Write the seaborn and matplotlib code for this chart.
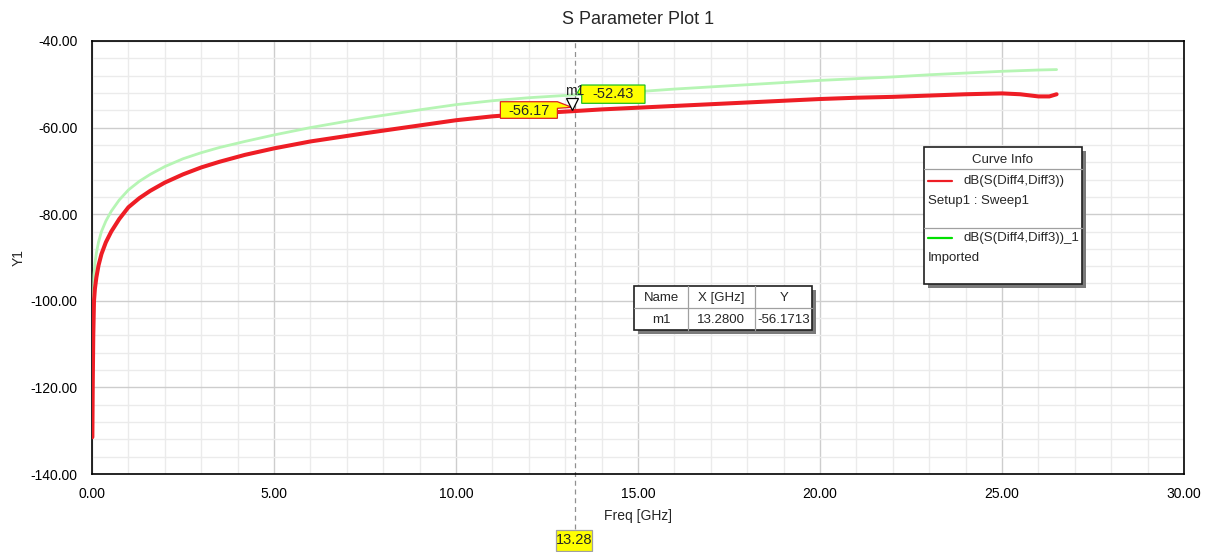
import numpy as np
import matplotlib
matplotlib.use('Agg')
import matplotlib.pyplot as plt
from matplotlib.patches import Rectangle, Polygon
from matplotlib.lines import Line2D
from matplotlib.transforms import IdentityTransform
from matplotlib.ticker import MultipleLocator, FormatStrFormatter
import seaborn as sns

# curve data (GHz, dB)
freq_red = [0.01, 0.02, 0.035, 0.055, 0.08, 0.12, 0.18, 0.26, 0.38, 0.53, 0.75, 1.0, 1.3, 1.6,
            2.0, 2.5, 3.0, 3.5, 4.2, 5.0, 6.0, 7.5, 9.0, 10.0, 11.0, 12.0, 13.28, 14.0, 15.0,
            16.0, 17.0, 18.0, 19.0, 20.0, 21.0, 22.0, 23.0, 24.0, 25.0, 25.5, 26.0, 26.3, 26.5]
s_red = [-131.5, -120.0, -108.0, -100.0, -97.2, -94.6, -91.8, -89.2, -86.5, -84.0, -81.1, -78.4,
         -76.3, -74.6, -72.7, -70.8, -69.2, -67.9, -66.3, -64.8, -63.2, -61.3, -59.5, -58.3,
         -57.4, -56.8, -56.17, -55.8, -55.4, -55.0, -54.6, -54.2, -53.8, -53.4, -53.1, -52.9,
         -52.6, -52.3, -52.1, -52.3, -52.8, -52.8, -52.3]

freq_grn = [0.01, 0.02, 0.035, 0.055, 0.08, 0.12, 0.18, 0.26, 0.38, 0.53, 0.75, 1.0, 1.3, 1.6,
            2.0, 2.5, 3.0, 3.5, 4.2, 5.0, 6.0, 7.5, 9.0, 10.0, 11.0, 12.0, 13.28, 14.0, 15.0,
            16.0, 17.0, 18.0, 19.0, 20.0, 21.0, 22.0, 23.0, 24.0, 25.0, 26.0, 26.5]
s_grn = [-124.0, -110.0, -100.0, -94.0, -91.4, -89.0, -86.4, -84.0, -81.6, -79.3, -76.7, -74.4,
         -72.4, -70.8, -69.0, -67.2, -65.8, -64.6, -63.2, -61.7, -60.0, -57.8, -55.9, -54.7,
         -53.8, -53.1, -52.43, -52.1, -51.7, -51.1, -50.6, -50.1, -49.6, -49.1, -48.7, -48.3,
         -47.8, -47.4, -47.0, -46.7, -46.6]

marker_name = 'm1'
marker_freq = 13.28
marker_red = -56.17
marker_grn = -52.43
marker_table = [['Name', 'X [GHz]', 'Y'], ['m1', '13.2800', '-56.1713']]

curve_labels = ['dB(S(Diff4,Diff3))', 'dB(S(Diff4,Diff3))_1']
curve_sources = ['Setup1 : Sweep1', 'Imported']

W, H = 1209, 552
sns.set_style('white')
plt.rcParams['font.family'] = ['Liberation Sans', 'DejaVu Sans']

fig = plt.figure(figsize=(W / 100, H / 100), dpi=100)
ax = fig.add_axes([92 / W, 1 - 474 / H, (1184 - 92) / W, (474 - 41) / H])

def px(x, y):
    return x / W, 1 - y / H

red = '#ee1d25'
grn_line = '#b6f5b4'

sns.lineplot(x=freq_grn, y=s_grn, color=grn_line, lw=2.0, ax=ax, sort=False, zorder=3)
sns.lineplot(x=freq_red, y=s_red, color=red, lw=2.9, ax=ax, sort=False, zorder=4)

ax.set_xlim(0, 30)
ax.set_ylim(-140, -40)
ax.xaxis.set_major_locator(MultipleLocator(5))
ax.xaxis.set_minor_locator(MultipleLocator(1))
ax.yaxis.set_major_locator(MultipleLocator(20))
ax.yaxis.set_minor_locator(MultipleLocator(4))
ax.xaxis.set_major_formatter(FormatStrFormatter('%.2f'))
ax.yaxis.set_major_formatter(FormatStrFormatter('%.2f'))
ax.grid(which='major', color='#cdcdcd', lw=1, zorder=0)
ax.grid(which='minor', color='#ebebeb', lw=1, zorder=0)
ax.set_axisbelow(True)
for s in ax.spines.values():
    s.set_color('black')
    s.set_linewidth(1.2)
ax.tick_params(which='major', direction='out', length=7, width=1, labelsize=10, colors='black')
ax.tick_params(which='minor', direction='out', length=4, width=1, colors='black')
ax.tick_params(axis='x', which='major', length=5, pad=4)

ax.set_title('S Parameter Plot 1', fontsize=13, pad=12.5)
ax.set_xlabel('Freq [GHz]', fontsize=10, labelpad=6)
ax.set_ylabel('Y1', fontsize=10, labelpad=3)

# marker line
ax.axvline(marker_freq, ymin=-0.128, ymax=1, color='#909090', ls=(0, (4, 3)), lw=0.9,
           clip_on=False, zorder=2)

def disp(x, y):
    return ax.transData.transform((x, y))

def callout(point, verts, text, center, edge):
    # verts / center are pixel offsets from the point, image y pointing down
    x0, y0 = point
    poly = [(x0 + dx, y0 - dy) for dx, dy in verts]
    fig.patches.append(Polygon(poly, closed=True, transform=IdentityTransform(), fc='#ffff00',
                               ec=edge, lw=0.9, zorder=6))
    fig.text((x0 + center[0]) / W, (y0 - center[1]) / H, text, fontsize=10.5, ha='center',
             va='center', zorder=7)

p_red = disp(marker_freq, marker_red)
p_grn = disp(marker_freq, marker_grn)
p_bot = ax.transAxes.transform((0, 0))
p_bot = (p_red[0], p_bot[1])

callout(p_red, [(-75, -9.3), (-18, -9.3), (-3.5, -3.7), (-18, -2.7), (-18, 7.3), (-75, 7.3)],
        f'{marker_red:.2f}', (-46.5, -0.5), '#e02020')
callout(p_grn, [(2, -2), (6.3, -9.8), (69.6, -9.8), (69.6, 8.5), (6.3, 8.5), (6.3, 0.2)],
        f'{marker_grn:.2f}', (38, -0.5), '#20c020')
callout(p_bot, [(-19, 56), (17, 56), (17, 77), (-19, 77)], f'{marker_freq:.2f}', (-1, 66.5),
        '#a0a0a0')

# marker triangle and name
tx, ty = p_red
fig.lines.append(Line2D([(tx - 3) / W], [(ty + 7.2) / H], marker='v', ms=8, mfc='white',
                        mec='black', mew=0.9, ls='none', transform=fig.transFigure, zorder=8))
fig.text((tx - 1) / W, (ty + 20) / H, marker_name, fontsize=10, ha='center', va='center',
         zorder=8)

def box(x0, y0, x1, y1):
    fig.patches.append(Rectangle(px(x0 + 4, y1 + 4), (x1 - x0) / W, (y1 - y0) / H,
                                 transform=fig.transFigure, fc='#7a7a7a', ec='none', zorder=8))
    fig.patches.append(Rectangle(px(x0, y1), (x1 - x0) / W, (y1 - y0) / H,
                                 transform=fig.transFigure, fc='white', ec='#202020', lw=1.2,
                                 zorder=9))

def hline(x0, x1, y, color='#a0a0a0'):
    fig.lines.append(Line2D([x0 / W, x1 / W], [1 - y / H, 1 - y / H], transform=fig.transFigure,
                            color=color, lw=0.9, zorder=10))

def vline(x, y0, y1, color='#a0a0a0'):
    fig.lines.append(Line2D([x / W, x / W], [1 - y0 / H, 1 - y1 / H], transform=fig.transFigure,
                            color=color, lw=0.9, zorder=10))

def txt(x, y, s, ha='left'):
    fig.text(*px(x, y), s, fontsize=9.5, ha=ha, va='center', zorder=11)

# curve info box
box(924, 147, 1082, 284)
txt(1003, 160, 'Curve Info', ha='center')
hline(924, 1082, 169)
hline(924, 1082, 228)
for i, (lab, src, col) in enumerate(zip(curve_labels, curve_sources, [red, '#00e000'])):
    y = 181 + i * 57
    fig.lines.append(Line2D([928 / W, 952 / W], [1 - y / H] * 2, transform=fig.transFigure,
                            color=col, lw=1.6, zorder=10))
    txt(964, y, lab)
    txt(928, y + 20, src)

# marker table
box(634, 286, 812, 330)
vline(688, 286, 330)
vline(755, 286, 330)
hline(634, 812, 308)
col_x = [661, 721, 784]
for r, row in enumerate(marker_table):
    for c, val in enumerate(row):
        txt(col_x[c], 298 + r * 22, val, ha='center')

fig.savefig('out.png', dpi=100)
